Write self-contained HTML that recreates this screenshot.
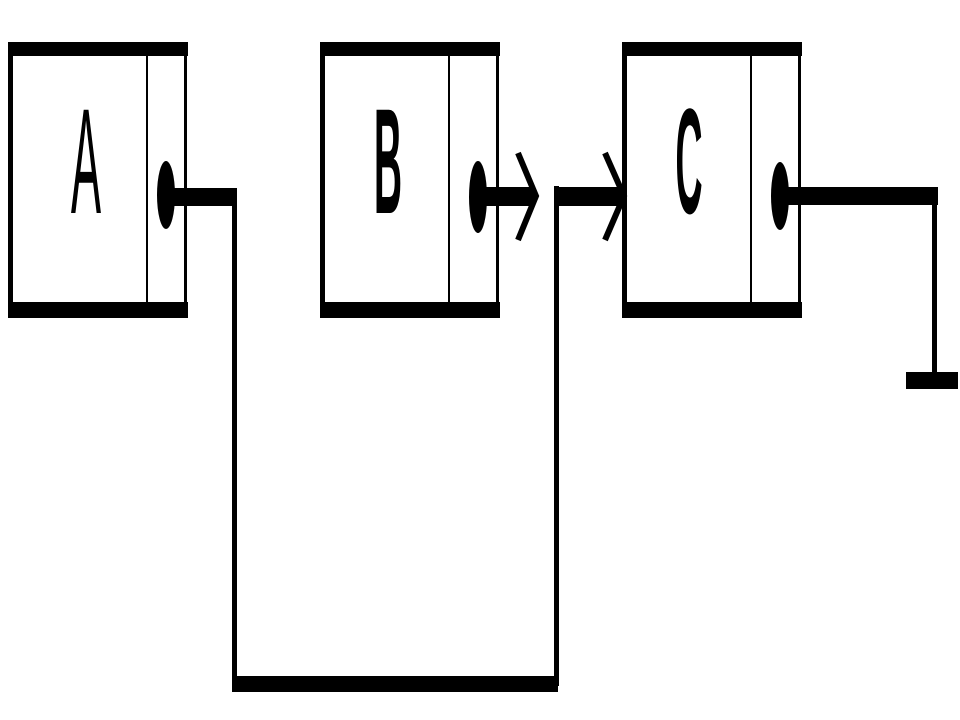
<!DOCTYPE html>
<html><head><meta charset="utf-8"><style>
html,body{margin:0;padding:0;background:#fff;width:960px;height:720px;overflow:hidden}
svg{display:block}
text{font-family:"Liberation Sans",sans-serif;fill:#000}
</style></head><body>
<svg width="960" height="720" viewBox="0 0 960 720">
<g>
<rect x="8" y="42" width="180" height="14" fill="#000"/>
<rect x="8" y="302" width="180" height="16" fill="#000"/>
<rect x="8" y="42" width="5" height="276" fill="#000"/>
<rect x="184" y="42" width="3" height="276" fill="#000"/>
<rect x="146" y="56" width="2" height="246" fill="#000"/>
<text x="86" y="213" font-size="150" text-anchor="middle" transform="translate(86,0) scale(0.3,1) translate(-86,0)">A</text>
<ellipse cx="166" cy="195" rx="9" ry="34" fill="#000"/>
</g>
<g>
<rect x="320" y="42" width="180" height="14" fill="#000"/>
<rect x="320" y="302" width="180" height="16" fill="#000"/>
<rect x="320" y="42" width="5" height="276" fill="#000"/>
<rect x="496" y="42" width="3" height="276" fill="#000"/>
<rect x="448" y="56" width="2" height="246" fill="#000"/>
<text x="388" y="213" font-size="150" font-weight="bold" text-anchor="middle" transform="translate(388,0) scale(0.26,1) translate(-388,0)">B</text>
<ellipse cx="478" cy="197" rx="9" ry="36" fill="#000"/>
</g>
<g>
<rect x="622" y="42" width="180" height="14" fill="#000"/>
<rect x="622" y="302" width="180" height="16" fill="#000"/>
<rect x="622" y="42" width="5" height="276" fill="#000"/>
<rect x="798" y="42" width="3" height="276" fill="#000"/>
<rect x="750" y="56" width="2" height="246" fill="#000"/>
<text x="689" y="213" font-size="150" font-weight="bold" text-anchor="middle" transform="translate(689,0) scale(0.25,1) translate(-689,0)">C</text>
<ellipse cx="780" cy="196" rx="9" ry="34" fill="#000"/>
</g>
<g fill="#000">
<rect x="166" y="188" width="71" height="18"/>
<rect x="232" y="188" width="5" height="500"/>
<rect x="232" y="676" width="326" height="16"/>
<rect x="554" y="186" width="5" height="500"/>
<rect x="554" y="187" width="70" height="19"/>
<polyline points="605,153 624,196 605,240" fill="none" stroke="#000" stroke-width="6"/>
</g>
<g>
<rect x="478" y="187" width="56" height="19" fill="#000"/>
<polyline points="518,153 536,196 518,240" fill="none" stroke="#000" stroke-width="6"/>
</g>
<g fill="#000">
<rect x="780" y="187" width="158" height="18"/>
<rect x="932" y="187" width="5" height="190"/>
<rect x="906" y="372" width="52" height="17"/>
</g>
</svg>
</body></html>
